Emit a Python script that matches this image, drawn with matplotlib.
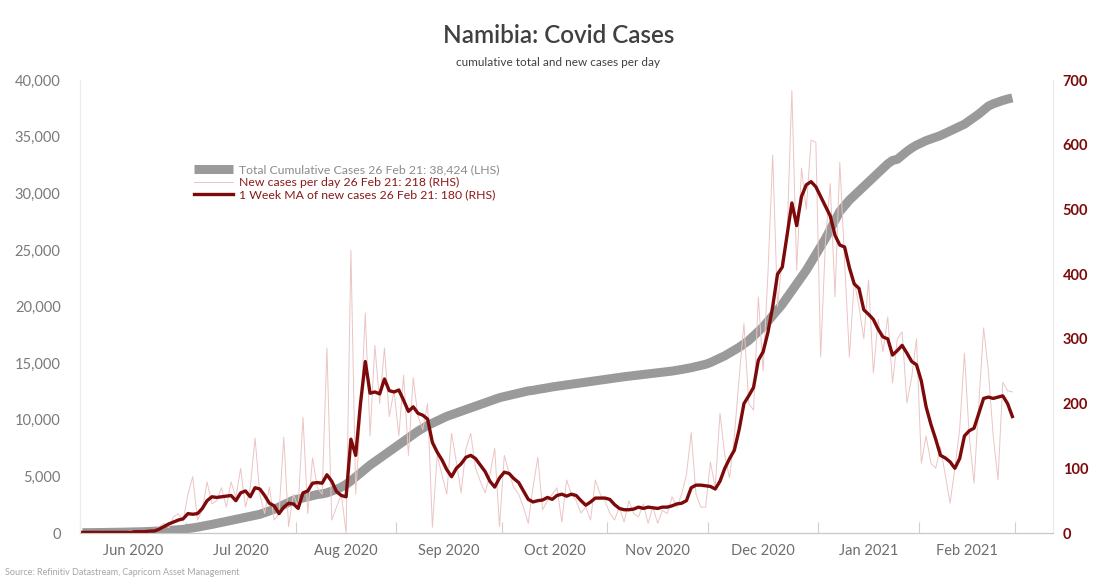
import numpy as np
import pandas as pd
import matplotlib
matplotlib.use("Agg")
from matplotlib import pyplot as plt
from matplotlib.ticker import FuncFormatter, FixedLocator

plt.rcParams['font.family'] = ['Lato', 'DejaVu Sans']

# business days, 1 Jun 2020 - 26 Feb 2021
dates = pd.bdate_range('2020-06-01', '2021-02-26')

total_cases = [
    30, 30, 35, 40, 45, 50, 55, 60, 70, 80, 90, 100, 110, 120, 140, 160, 180, 200, 230, 260, 290, 320,
    400, 450, 520, 600, 680, 760, 850, 940, 1030, 1120, 1200, 1290, 1380, 1470, 1560, 1650, 1800, 1950,
    2100, 2300, 2500, 2700, 2900,
    3000, 3100, 3200, 3300, 3400, 3450, 3550, 3700, 3850, 4050, 4300, 4600, 4950, 5300, 5650, 6000, 6300,
    6600, 6900, 7200, 7500,
    7800, 8100, 8400, 8700, 9000, 9250, 9500, 9700, 9900, 10100, 10300, 10450, 10600, 10750, 10900, 11050,
    11200, 11350, 11500, 11650, 11800, 11950,
    12050, 12150, 12250, 12350, 12450, 12550, 12600, 12680, 12750, 12820, 12900, 12960, 13020, 13080, 13140,
    13200, 13260, 13320, 13380, 13440, 13500, 13560,
    13620, 13680, 13740, 13800, 13850, 13900, 13950, 14000, 14050, 14100, 14150, 14200, 14250, 14300, 14370,
    14440, 14520, 14600, 14700, 14800, 14900,
    15050, 15250, 15450, 15650, 15900, 16150, 16400, 16700, 17000, 17400, 17800, 18200, 18700, 19200, 19700,
    20200, 20800, 21400, 22000, 22600, 23200, 23900, 24600,
    25300, 26000, 26800, 27600, 28400, 28900, 29400, 29800, 30200, 30600, 31000, 31400, 31800, 32200, 32600,
    32900, 33000, 33350, 33700, 34000, 34250,
    34450, 34650, 34800, 34950, 35100, 35300, 35500, 35700, 35900, 36100, 36400, 36700, 37000, 37350, 37700,
    37900, 38050, 38200, 38320, 38424,
]

new_cases = [
    0, 2, 0, 1, 3, 0, 1, 2, 0, 1, 4, 2, 0, 3, 5, 2, 10, 15, 8, 25, 30, 18,
    60, 87, 20, 35, 79, 45, 50, 70, 40, 79, 55, 100, 40, 70, 147, 60, 30, 71, 20, 30, 148, 10, 60,
    40, 179, 30, 116, 70, 60, 286, 20, 40, 60, 0, 437, 60, 180, 340, 150, 290, 200, 286, 180, 220,
    150, 244, 120, 240, 180, 160, 200, 9, 120, 90, 60, 154, 110, 62, 130, 154, 100, 80, 62, 90, 131, 10,
    120, 93, 70, 60, 40, 15, 71, 117, 36, 50, 60, 70, 17, 82, 60, 50, 31, 40, 20, 82, 60, 50,
    31, 20, 40, 17, 50, 30, 25, 45, 15, 40, 15, 35, 30, 56, 40, 60, 90, 155, 60, 40, 40,
    110, 70, 185, 120, 85, 150, 240, 324, 200, 190, 365, 250, 400, 584, 350, 426, 460, 684, 406, 564,
    500, 607, 604,
    272, 450, 540, 365, 573, 420, 272, 390, 350, 300, 391, 247, 330, 280, 334, 232, 300, 311, 201, 241, 300,
    108, 150, 108, 100, 133, 90, 46, 100, 160, 278, 150, 77, 200, 317, 250, 150, 82, 233, 220, 218,
]

ma_cases = [
    1, 1, 1, 1, 1, 1, 1, 1, 1, 1, 1, 2, 2, 2, 3, 3, 6, 10, 14, 17, 20, 22,
    30, 29, 30, 38, 50, 56, 55, 56, 57, 58, 50, 62, 65, 56, 70, 68, 58, 46, 42, 30, 40, 46, 45,
    38, 62, 65, 77, 78, 77, 90, 80, 64, 58, 56, 145, 120, 200, 265, 216, 218, 215, 238, 220, 218,
    221, 205, 188, 195, 185, 182, 176, 140, 125, 113, 98, 87, 100, 107, 117, 120, 115, 105, 95, 80, 71, 85,
    94, 92, 84, 78, 65, 52, 48, 50, 51, 55, 52, 58, 60, 57, 60, 58, 50, 43, 48, 54, 54, 54,
    52, 44, 38, 36, 36, 37, 40, 38, 40, 39, 38, 40, 40, 42, 45, 46, 50, 70, 74, 74, 73,
    72, 68, 80, 100, 115, 128, 160, 200, 212, 225, 267, 280, 310, 350, 400, 411, 460, 510, 475, 520,
    538, 543, 535,
    520, 505, 490, 460, 445, 442, 410, 385, 378, 345, 338, 330, 315, 303, 300, 275, 282, 290, 278, 265, 260,
    235, 195, 168, 145, 120, 116, 110, 100, 115, 150, 158, 162, 185, 208, 210, 208, 210, 212, 200, 180,
]

labels = ['Total Cumulative Cases 26 Feb 21: 38,424 (LHS)',
          'New cases per day 26 Feb 21: 218 (RHS)',
          '1 Week MA of new cases 26 Feb 21: 180 (RHS)']

x = np.arange(len(dates))

fig = plt.figure(figsize=(10.97, 5.8), dpi=100)
ax = fig.add_subplot()
fig.subplots_adjust(left=0.073, right=0.96, bottom=0.081, top=0.862)
ax2 = ax.twinx()

grey = '#9a9a9a'
red = '#7d0a0a'
l1, = ax.plot(x, total_cases, color=grey, lw=6.5, solid_capstyle='butt')
l2, = ax2.plot(x, new_cases, color='#ecc4c4', lw=0.7)
l3, = ax2.plot(x, ma_cases, color=red, lw=2.4)

ax.set_ylim(0, 40000)
ax.set_yticks(np.arange(0, 40001, 5000))
ax.yaxis.set_major_formatter(FuncFormatter(lambda v, p: f'{int(v):,}'))
ax2.set_ylim(0, 700)
ax2.set_yticks(np.arange(0, 701, 100))
ax.set_xlim(-0.5, 202.5)

# month boundaries and centred month labels
months = dates.to_period('M')
starts = [i for i in range(len(dates)) if i == 0 or months[i] != months[i - 1]]
bounds = starts + [len(dates)]
ax.xaxis.set_major_locator(FixedLocator([b - 0.5 for b in bounds]))
ax.xaxis.set_major_formatter(FuncFormatter(lambda v, p: ''))
mids = [(bounds[k] + bounds[k + 1] - 1) / 2 for k in range(len(starts))]
ax.xaxis.set_minor_locator(FixedLocator(mids))
ax.set_xticklabels([d.strftime('%b %Y') for d in dates[starts]], minor=True)

ax.tick_params(axis='x', which='major', direction='in', length=8, color='#d0d0d0')
ax.tick_params(axis='x', which='minor', length=0, pad=8, labelsize=10.5, labelcolor='#6e6e6e')
ax.tick_params(axis='y', length=0, pad=14, labelsize=10.5, labelcolor='#7a7a7a')
ax2.tick_params(axis='y', length=0, pad=7, labelsize=10.5, labelcolor=red)
for t in ax2.get_yticklabels():
    t.set_fontweight('bold')

for a in (ax, ax2):
    a.spines['top'].set_visible(False)
    a.spines['left'].set_color('#ececec')
    a.spines['right'].set_color('#ececec')
    a.spines['bottom'].set_color('#c8c8c8')

leg = ax.legend([l1, l2, l3], labels, loc='upper left', bbox_to_anchor=(0.106, 0.838),
                frameon=False, fontsize=8.8, handlelength=3.2, labelspacing=0.12, handletextpad=0.5)
leg.get_texts()[0].set_color('#8c8c8c')
leg.get_texts()[1].set_color('#8b1a1a')
leg.get_texts()[2].set_color('#8b1a1a')
leg.get_lines()[0].set_linewidth(6.5)

fig.text(0.509, 0.938, 'Namibia: Covid Cases', ha='center', va='center', fontsize=17.5,
         fontweight='semibold', color='#404040')
fig.text(0.509, 0.893, 'cumulative total and new cases per day', ha='center', va='center',
         fontsize=8.5, color='#404040')
fig.text(0.005, 0.006, 'Source: Refinitiv Datastream, Capricorn Asset Management', ha='left', va='bottom',
         fontsize=6.5, color='#a5a5a5')

fig.savefig('out.png', dpi=100)
